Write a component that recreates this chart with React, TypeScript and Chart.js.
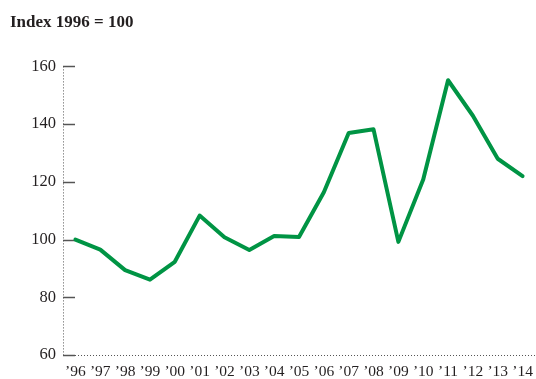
import React, { useEffect, useRef } from "react";
import { Chart, registerables } from "chart.js";

Chart.register(...registerables);

const titleText = "Index 1996 = 100";
const years = [
  "’96", "’97", "’98", "’99", "’00", "’01", "’02", "’03", "’04", "’05",
  "’06", "’07", "’08", "’09", "’10", "’11", "’12", "’13", "’14",
];
const indexValues = [
  100, 96.5, 89.4, 86.1, 92.3, 108.3, 100.8, 96.4, 101.2, 100.9,
  116.4, 136.9, 138.2, 99.2, 120.8, 155.2, 142.9, 128.0, 122.0,
];
const yTickValues = [60, 80, 100, 120, 140, 160];

const FONT = "'Liberation Serif', 'Times New Roman', serif";
const TEXT = "#231f20";
const LINE_GREEN = "#009444";
const AXIS = "#555555";

// Dotted axis lines plus short solid tick marks just inside the y axis.
const dottedAxes = {
  id: "dottedAxes",
  beforeDatasetsDraw(chart: any) {
    const y = chart.scales.y;
    const { left, right, top, bottom } = chart.chartArea;
    const ctx = chart.ctx;
    ctx.save();
    ctx.strokeStyle = AXIS;
    ctx.lineWidth = 1;
    ctx.setLineDash([1, 2]);
    ctx.beginPath();
    ctx.moveTo(left + 0.5, top);
    ctx.lineTo(left + 0.5, bottom);
    ctx.stroke();
    ctx.beginPath();
    ctx.moveTo(left, bottom + 0.5);
    ctx.lineTo(right, bottom + 0.5);
    ctx.stroke();
    ctx.setLineDash([]);
    ctx.lineWidth = 1.5;
    for (const v of yTickValues) {
      const py = Math.round(y.getPixelForValue(v)) + 0.5;
      ctx.beginPath();
      ctx.moveTo(left, py);
      ctx.lineTo(left + 12, py);
      ctx.stroke();
    }
    ctx.restore();
  },
};

export default function App() {
  const canvasRef = useRef<HTMLCanvasElement | null>(null);

  useEffect(() => {
    const canvas = canvasRef.current;
    if (!canvas) return;
    const chart = new Chart(canvas, {
      type: "line",
      data: {
        labels: years,
        datasets: [
          {
            data: indexValues,
            borderColor: LINE_GREEN,
            borderWidth: 4,
            pointRadius: 0,
            tension: 0,
            fill: false,
            borderCapStyle: "round",
            borderJoinStyle: "round",
          },
        ],
      },
      options: {
        animation: false,
        responsive: false,
        maintainAspectRatio: false,
        layout: { padding: { left: 10, right: 1, top: 0, bottom: 0 } },
        plugins: {
          legend: { display: false },
          tooltip: { enabled: false },
          title: {
            display: true,
            text: titleText,
            align: "start",
            color: TEXT,
            font: { family: FONT, size: 17, weight: "bold" },
            padding: { top: 12, bottom: 34 },
          },
        },
        scales: {
          x: {
            offset: true,
            afterFit: (scale: any) => {
              scale.height = 24;
              scale.paddingLeft = 0;
              scale.paddingRight = 0;
            },
            grid: { display: false, drawTicks: false },
            border: { display: false },
            ticks: {
              color: TEXT,
              font: { family: FONT, size: 15.5 },
              padding: 8,
              maxRotation: 0,
              autoSkip: false,
            },
          },
          y: {
            min: 60,
            max: 160,
            afterBuildTicks: (scale: any) => {
              scale.ticks = yTickValues.map((v) => ({ value: v }));
            },
            afterFit: (scale: any) => {
              scale.width = 53;
            },
            grid: { display: false, drawTicks: false },
            border: { display: false },
            ticks: {
              color: TEXT,
              font: { family: FONT, size: 16.5 },
              padding: 7,
            },
          },
        },
      },
      plugins: [dottedAxes],
    });
    return () => chart.destroy();
  }, []);

  return (
    <div style={{ position: "absolute", left: 0, top: 0, width: 536, height: 379, background: "#fff" }}>
      <canvas ref={canvasRef} width={536} height={379} style={{ display: "block" }} />
    </div>
  );
}
